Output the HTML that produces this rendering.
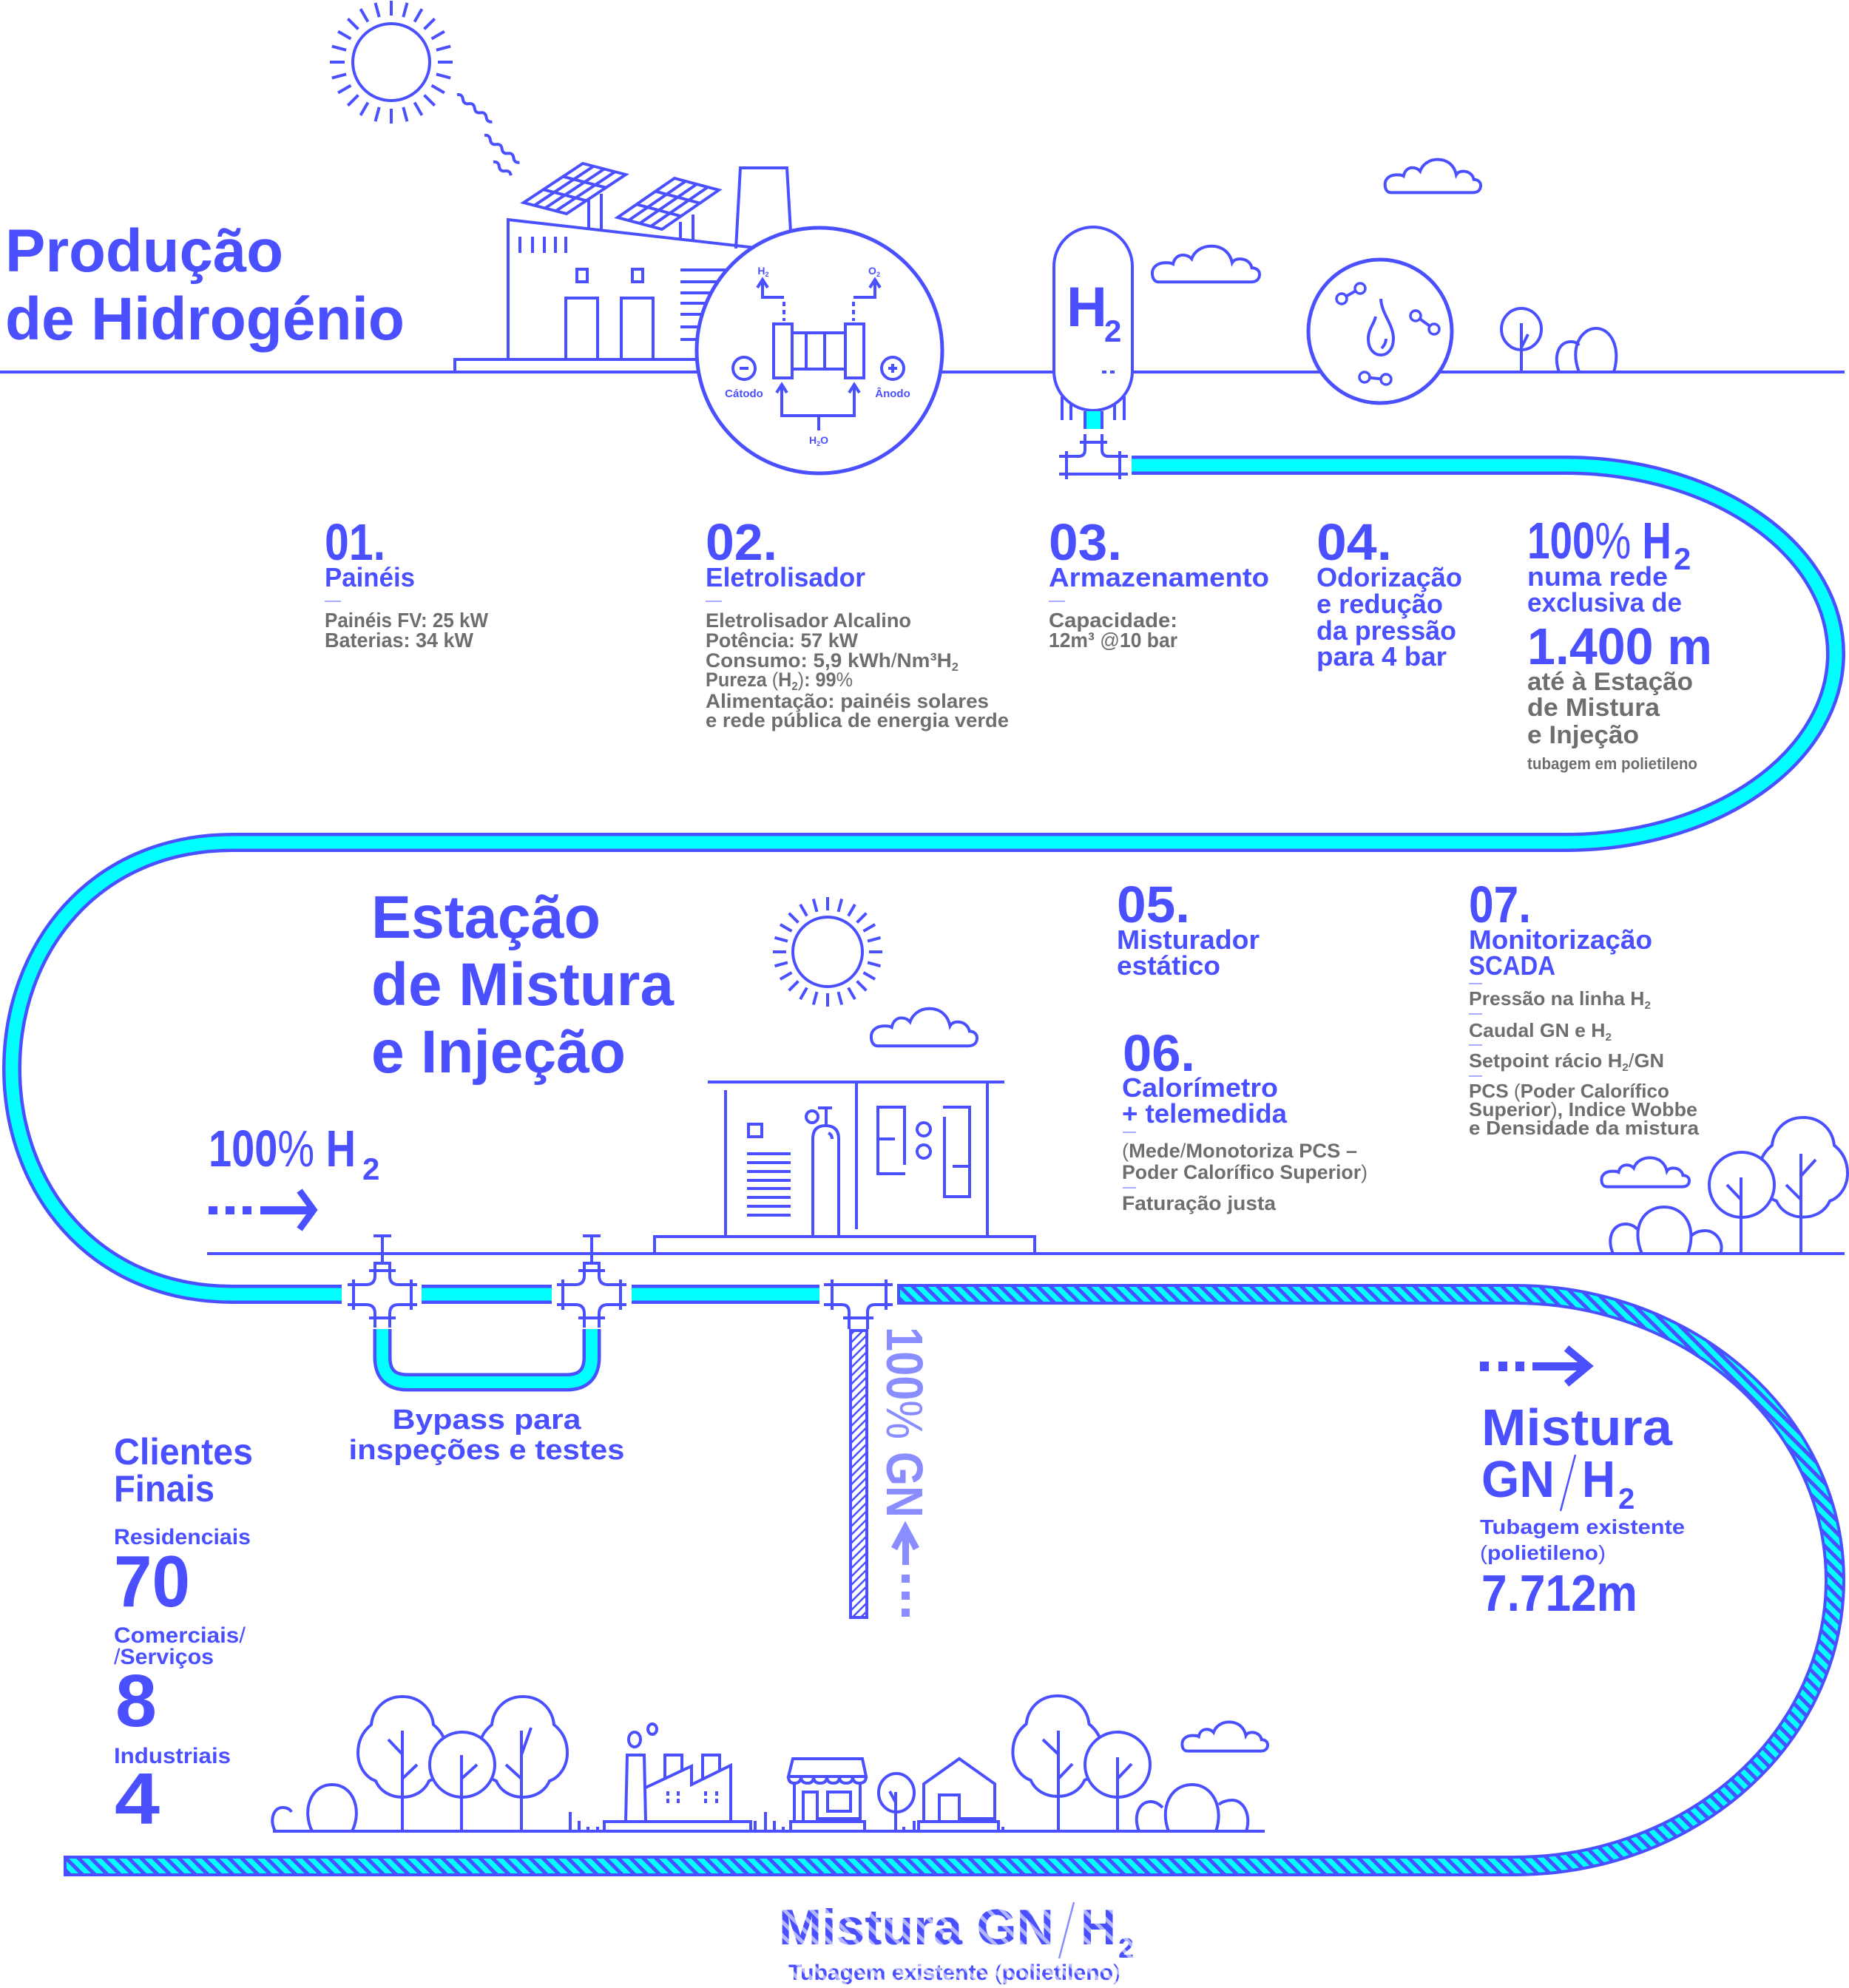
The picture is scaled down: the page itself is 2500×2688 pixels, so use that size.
<!DOCTYPE html>
<html><head><meta charset="utf-8"><style>
html,body{margin:0;padding:0;background:#fff}
svg{display:block}
text{font-family:"Liberation Sans",Arial,sans-serif;font-weight:700}
.s{fill:none;stroke:#4a50ff;stroke-width:4}
.b{fill:#4a50ff}
.g{fill:#6e6e6e}
.l{fill:#8a8dff}
.d{fill:#a8acff}
</style></head><body>
<svg width="2500" height="2688" viewBox="0 0 2500 2688" xmlns="http://www.w3.org/2000/svg">
<defs>
<path id="cl" d="M8 58H92C98 58 100 52 100 46C100 40 97 36 93 36C92 28 88 22 82 22C78 22 76 25 75 28C73 12 66 2 56 2C46 2 40 12 38 22C36 18 33 16 30 16C25 16 22 22 21 30C19 28 17 28 14 28C6 28 2 36 2 44C2 52 4 58 8 58Z" fill="#fff" stroke="#4a50ff" stroke-width="4" vector-effect="non-scaling-stroke"/>
<path id="tr" d="M0 0C-25 0-40 18-42 38C-52 46-60 58-60 76C-60 96-48 110-36 114C-30 128-16 136 0 136C16 136 30 128 36 114C48 110 60 96 60 76C60 58 52 46 42 38C40 18 25 0 0 0Z" fill="#fff" stroke="#4a50ff" stroke-width="4" vector-effect="non-scaling-stroke"/>
<pattern id="hc" width="12" height="12" patternUnits="userSpaceOnUse" patternTransform="rotate(-45)"><rect width="12" height="12" fill="#00ffff"/><rect width="5" height="12" fill="#4a50ff"/></pattern>
<pattern id="hv" width="8" height="8" patternUnits="userSpaceOnUse" patternTransform="rotate(45)"><rect width="8" height="8" fill="#fff"/><rect width="2.5" height="8" fill="#4a50ff"/></pattern>
<pattern id="ht" width="13" height="13" patternUnits="userSpaceOnUse" patternTransform="rotate(-45)"><rect width="13" height="13" fill="#4a50ff"/><rect width="5" height="13" fill="#b4b7ff"/></pattern>
</defs>
<rect width="2500" height="2688" fill="#fff"/>

<!-- ground lines -->
<path class="s" d="M0 503H2494"/>
<path class="s" d="M280 1695H2494"/>
<path class="s" d="M369 2476H1710"/>

<!-- top sun -->
<circle cx="529" cy="84" r="52" class="s"/>
<g transform="translate(529,84)" stroke="#4a50ff" stroke-width="4">
<line x1="63" x2="83" transform="rotate(0)"/><line x1="63" x2="83" transform="rotate(15)"/><line x1="63" x2="83" transform="rotate(30)"/><line x1="63" x2="83" transform="rotate(45)"/><line x1="63" x2="83" transform="rotate(60)"/><line x1="63" x2="83" transform="rotate(75)"/><line x1="63" x2="83" transform="rotate(90)"/><line x1="63" x2="83" transform="rotate(105)"/><line x1="63" x2="83" transform="rotate(120)"/><line x1="63" x2="83" transform="rotate(135)"/><line x1="63" x2="83" transform="rotate(150)"/><line x1="63" x2="83" transform="rotate(165)"/><line x1="63" x2="83" transform="rotate(180)"/><line x1="63" x2="83" transform="rotate(195)"/><line x1="63" x2="83" transform="rotate(210)"/><line x1="63" x2="83" transform="rotate(225)"/><line x1="63" x2="83" transform="rotate(240)"/><line x1="63" x2="83" transform="rotate(255)"/><line x1="63" x2="83" transform="rotate(270)"/><line x1="63" x2="83" transform="rotate(285)"/><line x1="63" x2="83" transform="rotate(300)"/><line x1="63" x2="83" transform="rotate(315)"/><line x1="63" x2="83" transform="rotate(330)"/><line x1="63" x2="83" transform="rotate(345)"/>
</g>
<!-- squiggles -->
<path class="s" stroke-width="3.5" d="M618 128Q625 127 625.9 134.1T633.8 140.2T641.7 146.3T649.6 152.4T657.5 158.5T665.4 164.6"/>
<path class="s" stroke-width="3.5" d="M655 183Q662 182 662.9 189.1T670.8 195.2T678.7 201.3T686.6 207.4T694.5 213.5T702.4 219.6"/>
<path class="s" stroke-width="3.5" d="M667 219Q674 218 674.9 225.1T682.8 231.2T690.7 237.3"/>

<!-- factory building -->
<path class="s" d="M615 503V486H1000"/>
<path class="s" d="M687 486V297L1030 336"/>
<path class="s" stroke-width="3" d="M703 320V342M720 320V342M736 320V342M751 320V342M765 320V342"/>
<rect x="780" y="364" width="14" height="17" class="s"/>
<rect x="855" y="364" width="14" height="17" class="s"/>
<path class="s" d="M765 486V403H808V486M840 486V403H883V486"/>
<path class="s" d="M920 365H990M920 381H990M920 396H990M920 410H990M920 425H990M920 442H990M920 459H990"/>
<path class="s" d="M995 336L1001 227H1064L1070 330"/>
<!-- panels -->
<path class="s" d="M788 221L846 236L766 289L708 274Z"/>
<path class="s" stroke-width="3" d="M802.5 224.8L722.5 277.8M817 228.5L737 281.5M831.5 232.3L751.5 285.3M761.3 238.7L819.3 253.7M734.7 256.3L792.7 271.3"/>
<path class="s" d="M796 270V309M813 262V311"/>
<path class="s" d="M912 241L972 257L895 310L835 294Z"/>
<path class="s" stroke-width="3" d="M927 245L850 298M942 249L865 302M957 253L880 306M886.3 258.7L946.3 274.7M860.7 276.3L920.7 292.3"/>
<path class="s" d="M920 300V324M937 290V326"/>

<!-- electrolyzer circle -->
<circle cx="1108" cy="474" r="166" fill="#fff" stroke="#4a50ff" stroke-width="5"/>
<path class="s" stroke-width="3" d="M1031 382V402H1060M1183 382V402H1154"/>
<path class="s" stroke-width="3" d="M1024 389L1031 378L1038 389M1176 389L1183 378L1190 389"/>
<path class="s" stroke-width="3" stroke-dasharray="6 5" d="M1060 408V434M1154 408V434"/>
<text x="1032" y="371" font-size="14" class="b" text-anchor="middle">H<tspan font-size="9" dy="3">2</tspan></text>
<text x="1182" y="371" font-size="14" class="b" text-anchor="middle">O<tspan font-size="9" dy="3">2</tspan></text>
<rect x="1046" y="438" width="25" height="73" class="s"/>
<rect x="1143" y="438" width="25" height="73" class="s"/>
<path class="s" d="M1071 450H1143M1071 499H1143M1090 450V499M1115 450V499"/>
<circle cx="1006" cy="498" r="15" class="s"/>
<rect x="1000" y="496" width="12" height="4" class="b"/>
<circle cx="1207" cy="498" r="15" class="s"/>
<rect x="1201" y="496" width="12" height="4" class="b"/><rect x="1205" y="492" width="4" height="12" class="b"/>
<text x="1006" y="537" font-size="15" class="b" text-anchor="middle">Cátodo</text>
<text x="1207" y="537" font-size="15" class="b" text-anchor="middle">Ânodo</text>
<path class="s" stroke-width="3" d="M1057 524V562H1155V524M1107 562V582"/>
<path class="s" stroke-width="3" d="M1050 531L1057 520L1064 531M1148 531L1155 520L1162 531"/>
<text x="1107" y="600" font-size="14" class="b" text-anchor="middle">H<tspan font-size="9" dy="3">2</tspan><tspan dy="-3">O</tspan></text>

<!-- tank -->
<path class="s" stroke-width="3" d="M1436 536V568M1448 545V568M1507 545V568M1520 536V568"/>
<rect x="1425" y="307" width="106" height="248" rx="53" fill="#fff" stroke="#4a50ff" stroke-width="4"/>
<text x="1442" y="441" font-size="76" class="b">H</text>
<text x="1493" y="462" font-size="42" class="b">2</text>
<rect x="1490" y="501" width="6" height="4" class="b"/><rect x="1501" y="501" width="6" height="4" class="b"/>
<rect x="1469" y="556" width="19" height="24" fill="#00ffff"/>
<path class="s" d="M1467 556V580M1490 556V580"/>
<path class="s" d="M1467 587V608Q1467 617 1458 617H1432M1490 587V608Q1490 617 1499 617H1525M1432 641H1525M1460 598H1497M1442 610V648M1514 610V648"/>

<!-- clouds top -->
<use href="#cl" transform="translate(1555,331) scale(1.48,0.867)"/>
<use href="#cl" transform="translate(1870,214) scale(1.32,0.8)"/>

<!-- odorization -->
<circle cx="1866" cy="448" r="97" fill="#fff" stroke="#4a50ff" stroke-width="5"/>
<path class="s" d="M1867 404C1868 425 1884 438 1884 458C1884 472 1876 480 1867 480C1858 480 1850 472 1850 458C1850 445 1858 438 1860 428"/>
<path class="s" stroke-width="3" d="M1874 458C1874 464 1871 468 1868 471"/>
<path class="s" stroke-width="3" d="M1814 404L1839 390M1914 427L1939 445M1845 510L1874 513"/>
<circle cx="1814" cy="404" r="7" fill="#fff" stroke="#4a50ff" stroke-width="3.5"/>
<circle cx="1839" cy="390" r="7" fill="#fff" stroke="#4a50ff" stroke-width="3.5"/>
<circle cx="1914" cy="427" r="7" fill="#fff" stroke="#4a50ff" stroke-width="3.5"/>
<circle cx="1939" cy="445" r="7" fill="#fff" stroke="#4a50ff" stroke-width="3.5"/>
<circle cx="1845" cy="510" r="7" fill="#fff" stroke="#4a50ff" stroke-width="3.5"/>
<circle cx="1874" cy="513" r="7" fill="#fff" stroke="#4a50ff" stroke-width="3.5"/>
<!-- tree top right -->
<ellipse cx="2057" cy="445" rx="27" ry="28" class="s"/>
<path class="s" d="M2057 437V503M2057 470L2066 452"/>
<path class="s" d="M2108 503C2100 480 2108 462 2124 462C2130 462 2133 464 2135 467"/>
<path class="s" d="M2135 503C2122 470 2138 444 2158 444C2178 444 2192 470 2182 503"/>

<!-- main cyan pipe -->
<path d="M1530 629H2117A365 255 0 0 1 2117 1139H315C125 1139 16 1285 16 1445C16 1605 125 1750 315 1750H462" fill="none" stroke="#4a50ff" stroke-width="26"/>
<path d="M1530 629H2117A365 255 0 0 1 2117 1139H315C125 1139 16 1285 16 1445C16 1605 125 1750 315 1750H462" fill="none" stroke="#00ffff" stroke-width="17"/>
<path d="M570 1750H746M854 1750H1108" fill="none" stroke="#4a50ff" stroke-width="26"/>
<path d="M570 1750H746M854 1750H1108" fill="none" stroke="#00ffff" stroke-width="17"/>
<!-- bypass U -->
<path d="M517 1797V1835Q517 1869 551 1869H766Q800 1869 800 1835V1797" fill="none" stroke="#4a50ff" stroke-width="25"/>
<path d="M517 1797V1835Q517 1869 551 1869H766Q800 1869 800 1835V1797" fill="none" stroke="#00ffff" stroke-width="16"/>
<!-- crosses -->
<g class="s">
<path d="M470 1737H495Q507 1737 507 1725V1708H527V1725Q527 1737 539 1737H564"/>
<path d="M470 1764H495Q507 1764 507 1776V1795M564 1764H539Q527 1764 527 1776V1795"/>
<path d="M478 1730V1771M556 1730V1771M499 1718H535M499 1782H535M517 1708V1671M505 1671H529"/>
</g>
<g class="s" transform="translate(283,0)">
<path d="M470 1737H495Q507 1737 507 1725V1708H527V1725Q527 1737 539 1737H564"/>
<path d="M470 1764H495Q507 1764 507 1776V1795M564 1764H539Q527 1764 527 1776V1795"/>
<path d="M478 1730V1771M556 1730V1771M499 1718H535M499 1782H535M517 1708V1671M505 1671H529"/>
</g>
<path class="s" d="M1114 1737H1207M1114 1764H1138Q1148 1764 1148 1774V1797M1207 1764H1183Q1173 1764 1173 1774V1797M1125 1730V1771M1198 1730V1771M1140 1782H1181"/>
<!-- vertical hatched GN pipe -->
<rect x="1150" y="1799" width="22" height="388" fill="url(#hv)" stroke="#4a50ff" stroke-width="4"/>
<!-- hatched mix pipe -->
<path d="M1213 1750H2048A433 386.5 0 0 1 2048 2523H86" fill="none" stroke="#4a50ff" stroke-width="28"/>
<path d="M1213 1750H2048A433 386.5 0 0 1 2048 2523H86" fill="none" stroke="url(#hc)" stroke-width="20"/>
<path class="s" d="M1215 1736V1764M88 2509V2537"/>

<!-- station scene -->
<circle cx="1119" cy="1287" r="47" class="s"/>
<g transform="translate(1119,1287)" stroke="#4a50ff" stroke-width="4">
<line x1="56" x2="74" transform="rotate(0)"/><line x1="56" x2="74" transform="rotate(15)"/><line x1="56" x2="74" transform="rotate(30)"/><line x1="56" x2="74" transform="rotate(45)"/><line x1="56" x2="74" transform="rotate(60)"/><line x1="56" x2="74" transform="rotate(75)"/><line x1="56" x2="74" transform="rotate(90)"/><line x1="56" x2="74" transform="rotate(105)"/><line x1="56" x2="74" transform="rotate(120)"/><line x1="56" x2="74" transform="rotate(135)"/><line x1="56" x2="74" transform="rotate(150)"/><line x1="56" x2="74" transform="rotate(165)"/><line x1="56" x2="74" transform="rotate(180)"/><line x1="56" x2="74" transform="rotate(195)"/><line x1="56" x2="74" transform="rotate(210)"/><line x1="56" x2="74" transform="rotate(225)"/><line x1="56" x2="74" transform="rotate(240)"/><line x1="56" x2="74" transform="rotate(255)"/><line x1="56" x2="74" transform="rotate(270)"/><line x1="56" x2="74" transform="rotate(285)"/><line x1="56" x2="74" transform="rotate(300)"/><line x1="56" x2="74" transform="rotate(315)"/><line x1="56" x2="74" transform="rotate(330)"/><line x1="56" x2="74" transform="rotate(345)"/>
</g>
<use href="#cl" transform="translate(1175,1362) scale(1.46,0.9)"/>
<path class="s" d="M957 1463H1358M981 1474V1672M1158 1465V1662M1335 1465V1672M885 1696V1672H1399V1696"/>
<rect x="1012" y="1520" width="18" height="17" class="s"/>
<path class="s" stroke-width="3.5" d="M1010 1560H1069M1010 1572H1069M1010 1584H1069M1010 1596H1069M1010 1607H1069M1010 1619H1069M1010 1631H1069M1010 1643H1069"/>
<path class="s" d="M1099 1672V1540Q1099 1522 1116 1522Q1134 1522 1134 1540V1672"/>
<path class="s" stroke-width="3" d="M1120 1532Q1125 1534 1125 1540"/>
<circle cx="1098" cy="1510" r="8" class="s"/>
<path class="s" d="M1106 1498H1125M1117 1498V1522"/>
<path class="s" d="M1223 1575V1497H1187V1587H1224M1187 1540H1210"/>
<circle cx="1249" cy="1527" r="9" class="s"/>
<circle cx="1249" cy="1557" r="9" class="s"/>
<path class="s" d="M1275 1497H1311V1618H1277V1510M1288 1577H1311"/>

<!-- mid right trees -->
<use href="#cl" transform="translate(2163,1564) scale(1.21,0.7)"/>
<use href="#tr" transform="translate(2438,1511) scale(1,0.99)"/>
<path class="s" d="M2435 1560V1695M2455 1568L2435 1590M2415 1602L2435 1622"/>
<ellipse cx="2355" cy="1602" rx="44" ry="44" fill="#fff" stroke="#4a50ff" stroke-width="4"/>
<path class="s" d="M2354 1592V1695M2335 1602L2354 1622"/>
<path class="s" d="M2181 1695C2172 1675 2180 1655 2198 1655C2205 1655 2210 1658 2214 1662"/>
<path class="s" d="M2220 1695C2205 1660 2222 1632 2250 1632C2278 1632 2295 1660 2282 1695"/>
<path class="s" d="M2286 1672C2292 1665 2300 1664 2306 1664C2320 1664 2332 1680 2326 1695"/>

<!-- bottom scene -->
<path class="s" d="M372 2476C364 2460 370 2444 382 2444C388 2444 392 2446 394 2450"/>
<path class="s" d="M422 2476C408 2448 420 2413 449 2413C478 2413 490 2448 476 2476"/>
<use href="#tr" transform="translate(544,2294)"/>
<path class="s" d="M544 2340V2476M525 2352L544 2372M564 2386L544 2405"/>
<use href="#tr" transform="translate(707,2294)"/>
<path class="s" d="M705 2340V2476M684 2386L705 2405M718 2336L705 2373"/>
<ellipse cx="625" cy="2386" rx="44" ry="44" fill="#fff" stroke="#4a50ff" stroke-width="4"/>
<path class="s" d="M624 2373V2476M645 2386L624 2405"/>
<path class="s" stroke-width="3" d="M771 2450V2476M783 2462V2476M795 2470V2476M808 2470V2476M1021 2462V2476M1035 2450V2476M1047 2462V2476M1059 2470V2476M1222 2470V2476M1236 2462V2476M1356 2470V2476"/>
<!-- factory -->
<path class="s" d="M817 2476V2463H1015V2476"/>
<path class="s" d="M846 2463L848 2373H871L873 2463"/>
<ellipse cx="858" cy="2352" rx="8" ry="10" class="s"/>
<ellipse cx="882" cy="2338" rx="6" ry="7" class="s"/>
<path class="s" d="M873 2417L935 2388V2413L988 2387V2463"/>
<path class="s" d="M899 2405V2373H922V2394M950 2406V2373H973V2394"/>
<path class="s" stroke-width="3" d="M903 2422V2428M917 2422V2428M903 2432V2438M917 2432V2438M954 2422V2428M969 2422V2428M954 2432V2438M969 2432V2438"/>
<!-- shop -->
<path class="s" d="M1069 2476V2463H1169V2476"/>
<path class="s" d="M1072 2378H1166L1171 2402H1066Z"/>
<path class="s" stroke-width="3" d="M1066 2402Q1066 2411 1074 2411Q1083 2411 1083 2402Q1083 2411 1092 2411Q1100 2411 1100 2402Q1100 2411 1109 2411Q1118 2411 1118 2402Q1118 2411 1127 2411Q1135 2411 1135 2402Q1135 2411 1144 2411Q1153 2411 1153 2402Q1153 2411 1162 2411Q1171 2411 1171 2402"/>
<path class="s" d="M1074 2411V2463M1163 2411V2463M1086 2463V2423H1105V2463"/>
<rect x="1119" y="2423" width="31" height="26" class="s"/>
<path class="s" d="M1105 2459H1163"/>
<ellipse cx="1212" cy="2424" rx="24" ry="26" class="s"/>
<path class="s" d="M1211 2423V2476M1211 2437L1203 2422"/>
<!-- house -->
<path class="s" d="M1242 2476V2463H1350V2476"/>
<path class="s" d="M1249 2463V2412L1297 2378L1345 2412V2463M1270 2463V2427H1297V2463M1297 2459H1345"/>
<!-- right trees bottom -->
<use href="#tr" transform="translate(1430,2293) scale(1.01,1)"/>
<path class="s" d="M1431 2340V2476M1410 2352L1431 2372M1450 2385L1431 2405"/>
<ellipse cx="1511" cy="2386" rx="44" ry="44" fill="#fff" stroke="#4a50ff" stroke-width="4"/>
<path class="s" d="M1511 2376V2476M1530 2385L1511 2405"/>
<path class="s" d="M1540 2476C1532 2455 1540 2436 1556 2436C1562 2436 1568 2440 1572 2444"/>
<path class="s" d="M1580 2476C1568 2445 1582 2413 1612 2413C1640 2413 1655 2445 1644 2476"/>
<path class="s" d="M1648 2440C1652 2436 1660 2434 1666 2434C1682 2434 1692 2455 1685 2476"/>
<use href="#cl" transform="translate(1596,2327) scale(1.18,0.7)"/>

<!-- arrows -->
<rect x="282" y="1631" width="12" height="11" class="b"/><rect x="305" y="1631" width="12" height="11" class="b"/><rect x="328" y="1631" width="12" height="11" class="b"/>
<rect x="352" y="1631" width="68" height="11" class="b"/>
<path d="M405 1610L424 1636L405 1662" fill="none" stroke="#4a50ff" stroke-width="9"/>
<rect x="2001" y="1841" width="12" height="13" class="b"/><rect x="2026" y="1841" width="12" height="13" class="b"/><rect x="2049" y="1841" width="12" height="13" class="b"/>
<rect x="2072" y="1842" width="72" height="11" class="b"/>
<path d="M2118 1823L2147 1847L2118 1871" fill="none" stroke="#4a50ff" stroke-width="10"/>
<path d="M1209 2094L1224 2066L1239 2094" fill="none" stroke="#8a8dff" stroke-width="9"/>
<rect x="1220" y="2068" width="9" height="48" class="l"/>
<rect x="1219" y="2129" width="11" height="11" class="l"/><rect x="1219" y="2152" width="11" height="11" class="l"/><rect x="1219" y="2175" width="11" height="11" class="l"/>

<!-- TEXTS -->
<text x="7" y="367" font-size="82" class="b" textLength="376" lengthAdjust="spacingAndGlyphs">Produção</text>
<text x="7" y="459" font-size="82" class="b" textLength="540" lengthAdjust="spacingAndGlyphs">de Hidrogénio</text>

<text x="439" y="757" font-size="70" class="b" textLength="82" lengthAdjust="spacingAndGlyphs">01.</text>
<text x="439" y="793" font-size="36" class="b" textLength="122" lengthAdjust="spacingAndGlyphs">Painéis</text>
<rect x="439" y="812" width="22" height="2" class="d"/>
<text x="439" y="848" font-size="28" class="g" textLength="221" lengthAdjust="spacingAndGlyphs">Painéis FV: 25 kW</text>
<text x="439" y="875" font-size="28" class="g" textLength="201" lengthAdjust="spacingAndGlyphs">Baterias: 34 kW</text>

<text x="954" y="757" font-size="70" class="b" textLength="97" lengthAdjust="spacingAndGlyphs">02.</text>
<text x="954" y="793" font-size="36" class="b" textLength="216" lengthAdjust="spacingAndGlyphs">Eletrolisador</text>
<rect x="954" y="812" width="22" height="2" class="d"/>
<text x="954" y="848" font-size="27" class="g" textLength="278" lengthAdjust="spacingAndGlyphs">Eletrolisador Alcalino</text>
<text x="954" y="875" font-size="27" class="g" textLength="206" lengthAdjust="spacingAndGlyphs">Potência: 57 kW</text>
<text x="954" y="902" font-size="27" class="g" textLength="342" lengthAdjust="spacingAndGlyphs">Consumo: 5,9 kWh<tspan font-weight="400">/</tspan>Nm³H<tspan font-size="16" dy="5">2</tspan></text>
<text x="954" y="928" font-size="27" class="g" textLength="199" lengthAdjust="spacingAndGlyphs">Pureza <tspan font-weight="400">(</tspan>H<tspan font-size="16" dy="5">2</tspan><tspan font-weight="400" dy="-5">)</tspan>: 99<tspan font-weight="400">%</tspan></text>
<text x="954" y="957" font-size="27" class="g" textLength="383" lengthAdjust="spacingAndGlyphs">Alimentação: painéis solares</text>
<text x="954" y="983" font-size="27" class="g" textLength="410" lengthAdjust="spacingAndGlyphs">e rede pública de energia verde</text>

<text x="1418" y="757" font-size="70" class="b" textLength="99" lengthAdjust="spacingAndGlyphs">03.</text>
<text x="1418" y="793" font-size="36" class="b" textLength="298" lengthAdjust="spacingAndGlyphs">Armazenamento</text>
<rect x="1418" y="812" width="22" height="2" class="d"/>
<text x="1418" y="848" font-size="28" class="g" textLength="174" lengthAdjust="spacingAndGlyphs">Capacidade:</text>
<text x="1418" y="875" font-size="28" class="g" textLength="174" lengthAdjust="spacingAndGlyphs">12m³ <tspan font-weight="400">@</tspan>10 bar</text>

<text x="1780" y="757" font-size="70" class="b" textLength="102" lengthAdjust="spacingAndGlyphs">04.</text>
<text x="1780" y="793" font-size="36" class="b" textLength="197" lengthAdjust="spacingAndGlyphs">Odorização</text>
<text x="1780" y="829" font-size="36" class="b" textLength="171" lengthAdjust="spacingAndGlyphs">e redução</text>
<text x="1780" y="865" font-size="36" class="b" textLength="189" lengthAdjust="spacingAndGlyphs">da pressão</text>
<text x="1780" y="900" font-size="36" class="b" textLength="176" lengthAdjust="spacingAndGlyphs">para 4 bar</text>

<text x="2065" y="755" font-size="70" class="b" textLength="195" lengthAdjust="spacingAndGlyphs">100<tspan font-weight="400">%</tspan> H</text>
<text x="2263" y="770" font-size="42" class="b">2</text>
<text x="2065" y="792" font-size="36" class="b" textLength="190" lengthAdjust="spacingAndGlyphs">numa rede</text>
<text x="2065" y="827" font-size="36" class="b" textLength="209" lengthAdjust="spacingAndGlyphs">exclusiva de</text>
<text x="2065" y="898" font-size="70" class="b" textLength="250" lengthAdjust="spacingAndGlyphs">1.400 m</text>
<text x="2065" y="933" font-size="34" class="g" textLength="224" lengthAdjust="spacingAndGlyphs">até à Estação</text>
<text x="2065" y="968" font-size="34" class="g" textLength="179" lengthAdjust="spacingAndGlyphs">de Mistura</text>
<text x="2065" y="1005" font-size="34" class="g" textLength="151" lengthAdjust="spacingAndGlyphs">e Injeção</text>
<text x="2065" y="1040" font-size="22" class="g" textLength="230" lengthAdjust="spacingAndGlyphs">tubagem em polietileno</text>

<text x="502" y="1268" font-size="82" class="b" textLength="310" lengthAdjust="spacingAndGlyphs">Estação</text>
<text x="502" y="1359" font-size="82" class="b" textLength="409" lengthAdjust="spacingAndGlyphs">de Mistura</text>
<text x="502" y="1450" font-size="82" class="b" textLength="344" lengthAdjust="spacingAndGlyphs">e Injeção</text>

<text x="282" y="1577" font-size="70" class="b" textLength="199" lengthAdjust="spacingAndGlyphs">100<tspan font-weight="400">%</tspan> H</text>
<text x="490" y="1595" font-size="42" class="b">2</text>

<text x="1510" y="1247" font-size="70" class="b" textLength="99" lengthAdjust="spacingAndGlyphs">05.</text>
<text x="1510" y="1283" font-size="36" class="b" textLength="193" lengthAdjust="spacingAndGlyphs">Misturador</text>
<text x="1510" y="1318" font-size="36" class="b" textLength="140" lengthAdjust="spacingAndGlyphs">estático</text>

<text x="1518" y="1448" font-size="70" class="b" textLength="98" lengthAdjust="spacingAndGlyphs">06.</text>
<text x="1517" y="1483" font-size="36" class="b" textLength="211" lengthAdjust="spacingAndGlyphs">Calorímetro</text>
<text x="1517" y="1518" font-size="36" class="b" textLength="223" lengthAdjust="spacingAndGlyphs">+ telemedida</text>
<rect x="1518" y="1530" width="18" height="2" class="d"/>
<text x="1517" y="1565" font-size="27" class="g" textLength="318" lengthAdjust="spacingAndGlyphs"><tspan font-weight="400">(</tspan>Mede<tspan font-weight="400">/</tspan>Monotoriza PCS –</text>
<text x="1517" y="1594" font-size="27" class="g" textLength="332" lengthAdjust="spacingAndGlyphs">Poder Calorífico Superior<tspan font-weight="400">)</tspan></text>
<rect x="1518" y="1605" width="18" height="2" class="d"/>
<text x="1517" y="1636" font-size="27" class="g" textLength="208" lengthAdjust="spacingAndGlyphs">Faturação justa</text>

<text x="1986" y="1247" font-size="70" class="b" textLength="84" lengthAdjust="spacingAndGlyphs">07.</text>
<text x="1986" y="1283" font-size="36" class="b" textLength="248" lengthAdjust="spacingAndGlyphs">Monitorização</text>
<text x="1986" y="1318" font-size="36" class="b" textLength="117" lengthAdjust="spacingAndGlyphs">SCADA</text>
<rect x="1986" y="1329" width="18" height="2" class="d"/>
<text x="1986" y="1359" font-size="26" class="g" textLength="246" lengthAdjust="spacingAndGlyphs">Pressão na linha H<tspan font-size="15" dy="5">2</tspan></text>
<rect x="1986" y="1370" width="18" height="2" class="d"/>
<text x="1986" y="1402" font-size="26" class="g" textLength="193" lengthAdjust="spacingAndGlyphs">Caudal GN e H<tspan font-size="15" dy="5">2</tspan></text>
<rect x="1986" y="1412" width="18" height="2" class="d"/>
<text x="1986" y="1443" font-size="26" class="g" textLength="264" lengthAdjust="spacingAndGlyphs">Setpoint rácio H<tspan font-size="15" dy="5">2</tspan><tspan font-weight="400" dy="-5">/</tspan>GN</text>
<rect x="1986" y="1454" width="18" height="2" class="d"/>
<text x="1986" y="1484" font-size="26" class="g" textLength="271" lengthAdjust="spacingAndGlyphs">PCS <tspan font-weight="400">(</tspan>Poder Calorífico</text>
<text x="1986" y="1509" font-size="26" class="g" textLength="309" lengthAdjust="spacingAndGlyphs">Superior<tspan font-weight="400">)</tspan>, Indice Wobbe</text>
<text x="1986" y="1534" font-size="26" class="g" textLength="311" lengthAdjust="spacingAndGlyphs">e Densidade da mistura</text>

<text x="658" y="1932" font-size="38" class="b" text-anchor="middle" textLength="255" lengthAdjust="spacingAndGlyphs">Bypass para</text>
<text x="658" y="1973" font-size="38" class="b" text-anchor="middle" textLength="373" lengthAdjust="spacingAndGlyphs">inspeções e testes</text>

<text transform="translate(1199,1794) rotate(90)" font-size="70" class="l" textLength="258" lengthAdjust="spacingAndGlyphs">100<tspan font-weight="400">%</tspan> GN</text>

<text x="154" y="1980" font-size="50" class="b" textLength="188" lengthAdjust="spacingAndGlyphs">Clientes</text>
<text x="154" y="2030" font-size="50" class="b" textLength="136" lengthAdjust="spacingAndGlyphs">Finais</text>
<text x="154" y="2088" font-size="30" class="b" textLength="185" lengthAdjust="spacingAndGlyphs">Residenciais</text>
<text x="154" y="2172" font-size="98" class="b" textLength="103" lengthAdjust="spacingAndGlyphs">70</text>
<text x="154" y="2221" font-size="30" class="b" textLength="178" lengthAdjust="spacingAndGlyphs">Comerciais<tspan font-weight="400">/</tspan></text>
<text x="154" y="2250" font-size="30" class="b" textLength="135" lengthAdjust="spacingAndGlyphs"><tspan font-weight="400">/</tspan>Serviços</text>
<text x="156" y="2334" font-size="100" class="b" textLength="56" lengthAdjust="spacingAndGlyphs">8</text>
<text x="154" y="2384" font-size="30" class="b" textLength="158" lengthAdjust="spacingAndGlyphs">Industriais</text>
<text x="155" y="2466" font-size="98" class="b" textLength="61" lengthAdjust="spacingAndGlyphs">4</text>

<text x="2003" y="1954" font-size="70" class="b" textLength="258" lengthAdjust="spacingAndGlyphs">Mistura</text>
<text x="2003" y="2024" font-size="70" class="b" textLength="99" lengthAdjust="spacingAndGlyphs">GN</text>
<path d="M2130 1967L2110 2043" stroke="#4a50ff" stroke-width="2.5"/>
<text x="2139" y="2024" font-size="70" class="b" textLength="45" lengthAdjust="spacingAndGlyphs">H</text>
<text x="2188" y="2040" font-size="40" class="b">2</text>
<text x="2001" y="2074" font-size="28" class="b" textLength="277" lengthAdjust="spacingAndGlyphs">Tubagem existente</text>
<text x="2001" y="2109" font-size="28" class="b" textLength="170" lengthAdjust="spacingAndGlyphs"><tspan font-weight="400">(</tspan>polietileno<tspan font-weight="400">)</tspan></text>
<text x="2003" y="2178" font-size="70" class="b" textLength="211" lengthAdjust="spacingAndGlyphs">7.712m</text>

<text x="1053" y="2629" font-size="68" fill="url(#ht)" textLength="372" lengthAdjust="spacingAndGlyphs">Mistura GN</text>
<path d="M1452 2572L1432 2648" stroke="#8a8dff" stroke-width="2.5"/>
<text x="1461" y="2629" font-size="68" fill="url(#ht)" textLength="48" lengthAdjust="spacingAndGlyphs">H</text>
<text x="1512" y="2647" font-size="38" fill="url(#ht)">2</text>
<text x="1066" y="2677" font-size="30" fill="url(#ht)" textLength="449" lengthAdjust="spacingAndGlyphs">Tubagem existente <tspan font-weight="400">(</tspan>polietileno<tspan font-weight="400">)</tspan></text>
</svg>
</body></html>
